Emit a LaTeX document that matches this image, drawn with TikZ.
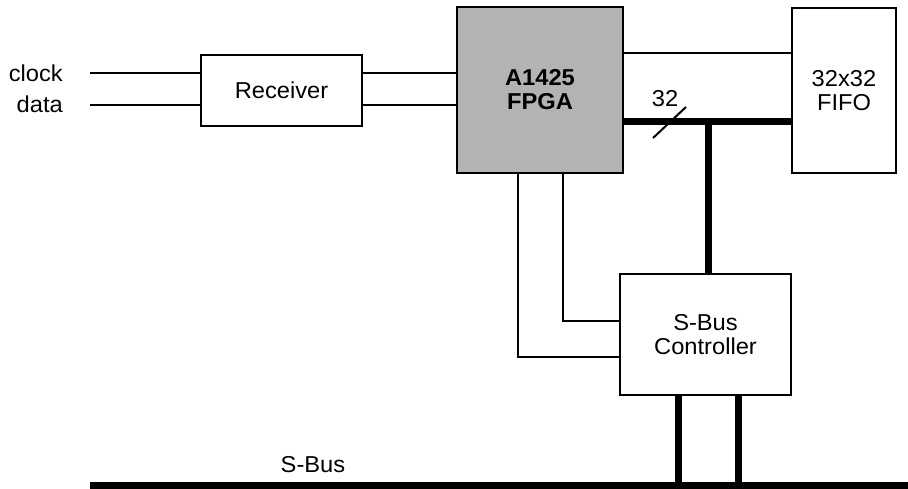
\documentclass[tikz,border=0pt]{standalone}
\usepackage{fontspec}
\setmainfont{Liberation Sans}[FakeStretch=1.03]
\usepackage{tikz}
\usetikzlibrary{calc}
\definecolor{fpgagray}{RGB}{179,179,179}

\begin{document}
\begin{tikzpicture}[x=1pt,y=-1pt,
  every node/.style={font=\fontsize{23}{24}\selectfont, align=center, inner sep=0pt},
  blk/.style={draw, line width=2pt, fill=white},
  wire/.style={line width=2pt},
  bus/.style={line width=7pt}]
\useasboundingbox (0,0) rectangle (908,489);
\node[blk, minimum width=161pt, minimum height=71pt] (rcv) at (281.5,90.5) {Receiver};
\node[blk, fill=fpgagray, minimum width=166pt, minimum height=166pt] (fpga) at (540,90) {\bfseries A1425\\\bfseries FPGA};
\node[blk, minimum width=104pt, minimum height=165pt] (fifo) at (844,90.5) {32x32\\FIFO};
\node[blk, minimum width=171pt, minimum height=121pt] (ctrl) at (705.5,334.5) {S-Bus\\Controller};
\node[anchor=east] (clklbl) at (63,73) {clock};
\node[anchor=east] (datlbl) at (63,104) {data};
\node (buslbl) at (313,465) {S-Bus};
\node (widthlbl) at (665,99) {32};
% inputs
\coordinate (clkin) at (90,73);
\coordinate (datin) at (90,105);
\draw[wire] (clkin) -- (clkin -| rcv.west);
\draw[wire] (datin) -- (datin -| rcv.west);
\draw[wire] (clkin -| rcv.east) -- (clkin -| fpga.west);
\draw[wire] (datin -| rcv.east) -- (datin -| fpga.west);
% fpga to fifo
\coordinate (ctl) at (700,53);
\draw[wire] (ctl -| fpga.east) -- (ctl -| fifo.west);
\coordinate (bustap) at (708,122);
\draw[bus] (bustap -| fpga.east) -- (bustap -| fifo.west);
\draw[wire] ($(bustap)+(-55,16)$) -- ($(bustap)+(-22,-15)$);
\draw[bus] (bustap) -- (bustap |- ctrl.north);
% fpga to controller
\coordinate (la) at (518,357);
\coordinate (lb) at (563,321);
\draw[wire] (la |- fpga.south) -- (la) -- (la -| ctrl.west);
\draw[wire] (lb |- fpga.south) -- (lb) -- (lb -| ctrl.west);
% s-bus
\coordinate (sbl) at (90,485);
\coordinate (sbr) at (908,485);
\draw[bus] (sbl) -- (sbr);
\coordinate (ta) at (678,485);
\coordinate (tb) at (738,485);
\draw[bus] (ta |- ctrl.south) -- (ta);
\draw[bus] (tb |- ctrl.south) -- (tb);
\end{tikzpicture}
\end{document}
